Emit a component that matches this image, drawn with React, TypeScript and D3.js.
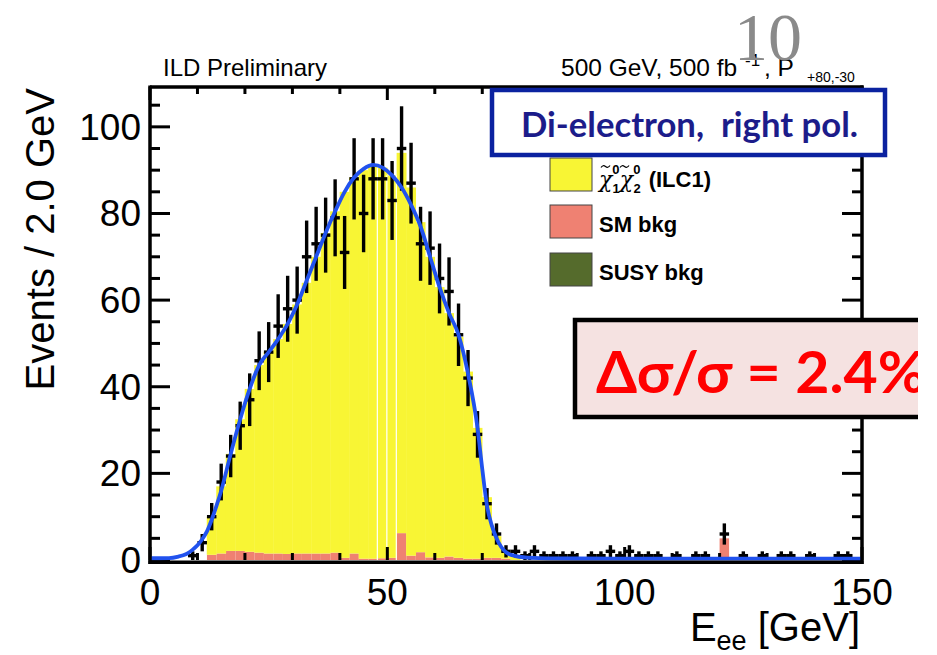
import React from "react";
import * as d3 from "d3";

// Histogram binning (GeV)
const X_MIN = 0;
const X_MAX = 150;
const BIN_WIDTH = 2;
const Y_MAX = 109.2;

// Observed events per 2 GeV bin, starting at 0 GeV
const dataCounts = [
  0, 0, 0, 0, 1, 4, 10, 18, 24, 31,
  37, 46, 48, 54, 58, 60, 70, 73, 75, 79,
  71, 88, 80, 88, 88, 83, 95, 87, 73, 72,
  65, 62, 52, 42, 29, 13, 6, 2, 2, 1,
  2, 1, 1, 1, 1, 0, 1, 1, 2, 1,
  2, 1, 1, 1, 0, 1, 0, 1, 1, 0,
  6, 0, 1, 0, 1, 0, 1, 1, 0, 1,
  0, 0, 1, 1, 0,
];

// Stacked expectation: SM background (bottom), SUSY background, signal (top)
const smBkg = [
  0, 0, 0, 0, 0, 0, 1.2, 1.5, 2.1, 2.1,
  1.9, 1.7, 1.5, 1.5, 1.4, 1.5, 1.5, 1.5, 1.5, 1.7,
  0.5, 1.5, 0.3, 0.3, 0.4, 0.5, 6.2, 1.0, 1.8, 0.6,
  0.5, 0.8, 0.5, 0.3, 0.3, 0.5, 0.5, 0.3, 0, 0,
  0, 0, 0, 0, 0, 0, 0, 0, 0, 0,
  0, 0, 0, 0, 0, 0, 0, 0, 0, 0,
  5.0, 0, 0, 0, 0, 0, 0, 0, 0, 0,
  0, 0, 0, 0, 0,
];

const susyBkg = [
  0, 0, 0, 0, 0, 0, 0, 0, 0, 0,
  0, 0, 0, 0, 0, 0, 0, 0, 0, 0,
  0, 0, 0, 0, 0, 0, 0, 0, 0, 0,
  0, 0, 0, 0, 0, 0, 0, 0, 0, 0,
  0, 0, 0, 0, 0, 0, 0, 0, 0, 0,
  0, 0, 0, 0, 0, 0, 0, 0, 0, 0,
  0, 0, 0, 0, 0, 0, 0, 0, 0, 0,
  0, 0, 0, 0, 0,
];

const signalMC = [
  0, 0, 0, 0, 0, 0, 8.8, 15.5, 22.4, 30.4,
  37.6, 43.3, 46.5, 49.5, 53.1, 57.5, 62.5, 68.5, 74, 78.8,
  84.5, 86.8, 89.7, 90.9, 90.2, 88.3, 87.8, 85, 76.2, 69.4,
  62.5, 56.2, 51, 43.2, 30.2, 14, 5.0, 1.7, 0.8, 0,
  0, 0, 0, 0, 0, 0, 0, 0, 0, 0,
  0, 0, 0, 0, 0, 0, 0, 0, 0, 0,
  0, 0, 0, 0, 0, 0, 0, 0, 0, 0,
  0, 0, 0, 0, 0,
];

// Fitted template curve
const fitE = [
  0, 4, 6, 7, 8, 9, 10, 11, 12, 13,
  14, 15, 17, 19, 21, 23, 25, 27, 29, 31,
  33, 35, 37, 39, 41, 43, 45, 47, 49, 51,
  53, 55, 57, 59, 61, 63, 65, 67, 69, 70,
  71, 72, 73, 74, 75, 77, 79, 82, 90, 110,
  130, 150,
];
const fitV = [
  0.4, 0.45, 0.8, 1.1, 1.6, 2.4, 3.4, 4.8, 6.6, 9.3,
  12.5, 16, 24.5, 32.5, 39.5, 45, 48, 51, 54.5, 59,
  64.5, 70, 75.5, 80.5, 85, 88.3, 90.3, 91.2, 90.6, 88.8,
  86, 82, 77, 70, 63, 57, 52, 43, 30.5, 21,
  12.5, 8, 5, 3, 1.8, 0.9, 0.6, 0.45, 0.35, 0.3,
  0.3, 0.3,
];

// Thin seams between adjacent filled bins
const gapEdges = [48, 50, 52];

const xTickLabels = [0, 50, 100, 150];
const yTickLabels = [0, 20, 40, 60, 80, 100];

const legendLabels = ["SM bkg", "SUSY bkg"];

const COLORS = {
  signal: "#f8f534",
  sm: "#ef8172",
  susy: "#556b2c",
  curve: "#2152ee",
};

const SANS = "'Liberation Sans', Arial, Helvetica, sans-serif";
const HUMANIST = "Lato, 'Open Sans', sans-serif";

export default function App() {
  const W = 937;
  const H = 655;
  const left = 150;
  const right = 862;
  const top = 87;
  const bottom = 560;

  const x = d3.scaleLinear().domain([X_MIN, X_MAX]).range([left, right]);
  const y = d3.scaleLinear().domain([0, Y_MAX]).range([bottom, top]);

  const bins = dataCounts.map((n, i) => {
    const lo = X_MIN + i * BIN_WIDTH;
    const sm = smBkg[i];
    const susy = susyBkg[i];
    const sig = signalMC[i];
    return { i, lo, hi: lo + BIN_WIDTH, n, sm, susy, sig, total: sm + susy + sig };
  });

  const fitLine = d3
    .line<number>()
    .x((_, i) => x(fitE[i]))
    .y((v) => y(v))
    .curve(d3.curveMonotoneX);

  const minorX = d3.range(X_MIN, X_MAX + 0.01, 10);
  const minorY = d3.range(0, Y_MAX, 5);

  const legendX = 550;
  const legendW = 42;
  const legendH = 33;

  // small tilde accent drawn above a chi glyph
  const tilde = (x0: number, y0: number) =>
    `M${x0},${y0 + 1.5} q2,-3 4.5,-1 t4.5,-1`;

  return (
    <div style={{ position: "absolute", left: 0, top: 0 }}>
      <svg width={W} height={H} viewBox={`0 0 ${W} ${H}`} style={{ display: "block", background: "#fff" }}>
        <defs>
          <clipPath id="slideClip">
            <rect x={0} y={0} width={918} height={H} />
          </clipPath>
        </defs>

        {/* stacked expectation */}
        <g>
          {bins.filter((b) => b.sm > 0).map((b) => (
            <rect key={`sm${b.i}`} x={x(b.lo)} width={x(b.hi) - x(b.lo)} y={y(b.sm)} height={y(0) - y(b.sm)} fill={COLORS.sm} />
          ))}
          {bins.filter((b) => b.susy > 0).map((b) => (
            <rect key={`su${b.i}`} x={x(b.lo)} width={x(b.hi) - x(b.lo)} y={y(b.sm + b.susy)} height={y(b.sm) - y(b.sm + b.susy)} fill={COLORS.susy} />
          ))}
          {bins.filter((b) => b.sig > 0).map((b) => (
            <rect key={`sg${b.i}`} x={x(b.lo) - 0.2} width={x(b.hi) - x(b.lo) + 0.4} y={y(b.total)} height={y(b.sm + b.susy) - y(b.total)} fill={COLORS.signal} />
          ))}
          {gapEdges.map((e) => {
            const iL = Math.round((e - X_MIN) / BIN_WIDTH) - 1;
            const h = Math.min(bins[iL].total, bins[iL + 1].total);
            return <line key={`gap${e}`} x1={x(e) - 0.5} x2={x(e) - 0.5} y1={y(0)} y2={y(h)} stroke="#fff" strokeWidth={1.2} />;
          })}
        </g>

        {/* axis ticks */}
        <g stroke="#000" strokeWidth={3}>
          {minorX.map((v) => {
            const major = v % 50 === 0;
            const len = major ? 13 : 7;
            return (
              <g key={`xt${v}`}>
                <line x1={x(v)} x2={x(v)} y1={bottom} y2={bottom - len} />
                <line x1={x(v)} x2={x(v)} y1={top} y2={top + len} />
              </g>
            );
          })}
          {minorY.map((v) => {
            const major = v % 20 === 0;
            const len = major ? 20 : 10;
            return (
              <g key={`yt${v}`}>
                <line x1={left} x2={left + len} y1={y(v)} y2={y(v)} />
                <line x1={right} x2={right - len} y1={y(v)} y2={y(v)} />
              </g>
            );
          })}
        </g>

        {/* data with Poisson errors */}
        <g stroke="#000" strokeWidth={3.4}>
          {bins.filter((b) => b.n > 0).map((b) => {
            const e = Math.sqrt(b.n);
            const cx = x(b.lo + BIN_WIDTH / 2);
            return (
              <g key={`d${b.i}`}>
                <line x1={cx} x2={cx} y1={y(Math.max(0, b.n - e))} y2={y(b.n + e)} />
                <line x1={x(b.lo)} x2={x(b.hi)} y1={y(b.n)} y2={y(b.n)} />
              </g>
            );
          })}
        </g>

        {/* fit */}
        <path d={fitLine(fitV) || ""} fill="none" stroke={COLORS.curve} strokeWidth={3.8} />

        {/* frame */}
        <g stroke="#000" strokeWidth={3.5} fill="none">
          <line x1={left} x2={right + 1.5} y1={top} y2={top} />
          <line x1={left} x2={left} y1={top - 1.5} y2={bottom + 4} />
          <line x1={right} x2={right} y1={top - 1.5} y2={bottom + 4} />
          <line x1={left - 1.5} x2={right + 1.5} y1={bottom + 2.2} y2={bottom + 2.2} />
        </g>

        {/* tick labels */}
        <g fontFamily={SANS} fontSize={37} fill="#000">
          {xTickLabels.map((v) => (
            <text key={`xl${v}`} x={x(v)} y={605} textAnchor="middle">{v}</text>
          ))}
          {yTickLabels.map((v) => (
            <text key={`yl${v}`} x={141} y={y(v) + 13} textAnchor="end">{v}</text>
          ))}
        </g>

        {/* axis titles */}
        <text x={860} y={641} textAnchor="end" fontFamily={SANS} fontSize={40} fill="#000">
          E<tspan fontSize={27} dy={9}>ee</tspan><tspan dy={-9}> [GeV]</tspan>
        </text>
        <text transform="translate(54,88) rotate(-90)" textAnchor="end" fontFamily={SANS} fontSize={40} fill="#000">
          Events / 2.0 GeV
        </text>

        {/* header */}
        <text x={163} y={76} fontFamily={SANS} fontSize={24} fill="#000">ILD Preliminary</text>
        <text x={561} y={76} fontFamily={SANS} fontSize={24.5} fill="#000">
          500 GeV, 500 fb<tspan fontSize={17} x={745} dy={-10}>-1</tspan><tspan x={764} dy={10}>, P</tspan>
          <tspan fontSize={14} x={807} dy={6}>+80,-30</tspan>
        </text>
        <text x={768} y={60} textAnchor="middle" fontFamily="'Liberation Serif', 'DejaVu Serif', serif" fontSize={68} fill="#8a8a8a">10</text>

        {/* legend */}
        <g fontFamily={SANS} fontWeight="bold" fontSize={22} fill="#000">
          <rect x={legendX} y={158} width={legendW} height={legendH} fill={COLORS.signal} stroke="#444" strokeWidth={1} />
          <rect x={legendX} y={205} width={legendW} height={legendH} fill={COLORS.sm} stroke="#444" strokeWidth={1} />
          <rect x={legendX} y={253} width={legendW} height={legendH} fill={COLORS.susy} stroke="#444" strokeWidth={1} />
          <text x={599} y={187}>
            <tspan fontFamily="'DejaVu Serif', serif" fontStyle="italic" fontWeight="normal" fontSize={22}>χ</tspan>
            <tspan fontSize={13} dy={-13}>0</tspan>
            <tspan fontSize={13} dx={-7} dy={19}>1</tspan>
            <tspan fontFamily="'DejaVu Serif', serif" fontStyle="italic" fontWeight="normal" fontSize={22} dx={0} dy={-6}>χ</tspan>
            <tspan fontSize={13} dy={-13}>0</tspan>
            <tspan fontSize={13} dx={-7} dy={19}>2</tspan>
            <tspan dx={8} dy={-6}>(ILC1)</tspan>
          </text>
          <path d={tilde(601, 166)} fill="none" stroke="#000" strokeWidth={1.2} />
          <path d={tilde(620, 166)} fill="none" stroke="#000" strokeWidth={1.2} />
          <text x={599} y={232}>{legendLabels[0]}</text>
          <text x={599} y={280}>{legendLabels[1]}</text>
        </g>

        {/* channel box */}
        <rect x={492} y={90} width={393} height={65} fill="#fff" stroke="#0b22a0" strokeWidth={4.5} />
        <text x={521} y={137} fontFamily={HUMANIST} fontWeight="bold" fontSize={34} fill="#1c1c8a" textLength={337} lengthAdjust="spacingAndGlyphs">
          {"Di-electron,\u00a0 right pol."}
        </text>

        {/* precision box */}
        <g clipPath="url(#slideClip)">
          <rect x={575} y={320} width={380} height={97} fill="#f5e2e1" stroke="#000" strokeWidth={4.5} />
          <text x={596} y={393} fontFamily={HUMANIST} fontWeight="bold" fontSize={57} fill="#ff0000" textLength={330} lengthAdjust="spacingAndGlyphs">
            Δσ/σ = 2.4%
          </text>
        </g>
      </svg>
    </div>
  );
}
